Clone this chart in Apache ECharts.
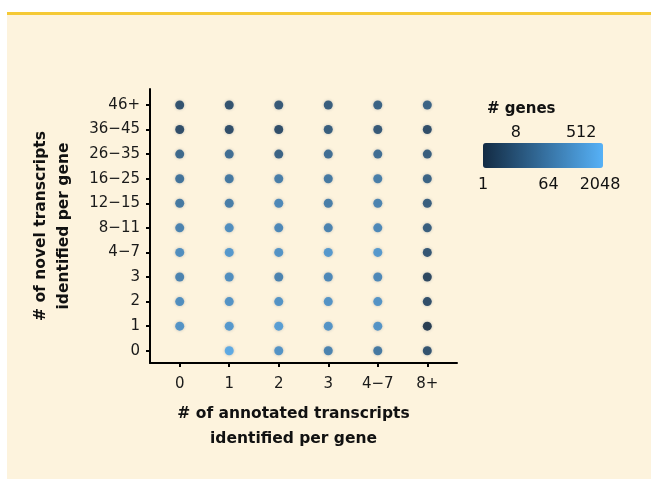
<!DOCTYPE html>
<html>
<head>
<meta charset="utf-8">
<script src="https://cdn.jsdelivr.net/npm/echarts@6/dist/echarts.min.js"></script>
<style>
  html, body { margin: 0; padding: 0; background: #ffffff; }
  #chart { width: 651px; height: 479px; }
</style>
</head>
<body>
<div id="chart"></div>
<script>
// Categories
const annotatedCats = ['0', '1', '2', '3', '4\u22127', '8+'];
const novelCats = ['0', '1', '2', '3', '4\u22127', '8\u221211', '12\u221215', '16\u221225', '26\u221235', '36\u221245', '46+'];

// Estimated number of genes per cell, rows = novel category (0 .. 46+), columns = annotated category (0 .. 8+)
const genes_novel_0     = [null, 1024, 256, 90, 45, 4];
const genes_novel_1     = [256, 360, 512, 256, 256, 1];
const genes_novel_2     = [180, 256, 256, 256, 256, 3];
const genes_novel_3     = [90, 180, 90, 128, 128, 2];
const genes_novel_4_7   = [180, 360, 256, 360, 360, 5];
const genes_novel_8_11  = [90, 180, 128, 90, 128, 8];
const genes_novel_12_15 = [45, 64, 128, 64, 90, 8];
const genes_novel_16_25 = [32, 45, 64, 45, 64, 11];
const genes_novel_26_35 = [16, 23, 11, 23, 23, 8];
const genes_novel_36_45 = [3, 3, 3, 8, 6, 3];
const genes_novel_46p   = [4, 4, 6, 8, 11, 11];

const geneRows = [genes_novel_0, genes_novel_1, genes_novel_2, genes_novel_3, genes_novel_4_7,
  genes_novel_8_11, genes_novel_12_15, genes_novel_16_25, genes_novel_26_35, genes_novel_36_45, genes_novel_46p];

// Colour legend tick labels
const legendTicksTop = [8, 512];
const legendTicksBottom = [1, 64, 2048];

const points = [];
geneRows.forEach((row, yi) => {
  row.forEach((v, xi) => {
    if (v != null) points.push([xi, yi, Math.log2(v), v]);
  });
});

const FONT = '"DejaVu Sans", "Liberation Sans", Arial, sans-serif';
const chart = echarts.init(document.getElementById('chart'), null, { renderer: 'canvas' });

// legend bar geometry (log2 scale 0..11)
const barLeft = 483, barTop = 143, barLen = 120, barThick = 25;
const lx = v => barLeft + Math.log2(v) / 11 * barLen;

const graphics = [
  { type: 'rect', shape: { x: 7, y: 12, width: 644, height: 467 }, style: { fill: '#fdf3dd' }, z: -10, silent: true },
  { type: 'rect', shape: { x: 7, y: 12, width: 644, height: 3 }, style: { fill: '#f5c935' }, z: -9, silent: true },
  { type: 'text', x: 487, y: 109, style: { text: '# genes', font: 'bold 15px ' + FONT, fill: '#111', verticalAlign: 'middle' } }
];
legendTicksTop.forEach(v => graphics.push({
  type: 'text', x: lx(v), y: 133, style: { text: String(v), font: '16px ' + FONT, fill: '#111', align: 'center', verticalAlign: 'middle' }
}));
legendTicksBottom.forEach(v => graphics.push({
  type: 'text', x: Math.min(lx(v), 600), y: 185, style: { text: String(v), font: '16px ' + FONT, fill: '#111', align: 'center', verticalAlign: 'middle' }
}));

chart.setOption({
  backgroundColor: '#ffffff',
  animation: false,
  textStyle: { fontFamily: FONT },
  grid: { left: 150, top: 89, width: 307, height: 274, containLabel: false },
  xAxis: {
    type: 'value', min: -0.6, max: 5.6,
    splitLine: { show: false },
    axisLine: { show: true, onZero: false, lineStyle: { color: '#000', width: 2 } },
    axisTick: { show: true, length: 4, lineStyle: { color: '#000', width: 2 }, customValues: annotatedCats.map((c, i) => i) },
    axisLabel: { customValues: annotatedCats.map((c, i) => i), formatter: v => annotatedCats[Math.round(v)] || '',
      color: '#1a1a1a', fontSize: 15, margin: 14, fontFamily: FONT },
    name: '# of annotated transcripts\nidentified per gene',
    nameLocation: 'middle', nameGap: 38,
    nameTextStyle: { fontSize: 15.5, fontWeight: 'bold', color: '#111', lineHeight: 25, fontFamily: FONT,
      verticalAlign: 'top', padding: [0, 20, 0, 0] }
  },
  yAxis: {
    type: 'value', min: -0.5, max: 10.65,
    splitLine: { show: false },
    axisLine: { show: true, onZero: false, lineStyle: { color: '#000', width: 2 } },
    axisTick: { show: true, length: 4, lineStyle: { color: '#000', width: 2 }, customValues: novelCats.map((c, i) => i) },
    axisLabel: { customValues: novelCats.map((c, i) => i), formatter: v => novelCats[Math.round(v)] || '',
      color: '#1a1a1a', fontSize: 15, margin: 10, fontFamily: FONT },
    name: '# of novel transcripts\nidentified per gene',
    nameLocation: 'middle', nameGap: 75, nameRotate: 90,
    nameTextStyle: { fontSize: 15.5, fontWeight: 'bold', color: '#111', lineHeight: 23, fontFamily: FONT }
  },
  visualMap: {
    type: 'continuous', min: 0, max: 11, dimension: 2,
    orient: 'horizontal', left: barLeft, top: barTop,
    itemWidth: barThick, itemHeight: barLen, padding: 0,
    calculable: false, text: null, showLabel: false,
    inRange: { color: ['#132B43', '#56B1F7'] },
    seriesIndex: 0
  },
  series: [{
    type: 'scatter',
    data: points,
    symbolSize: 9,
    itemStyle: { opacity: 0.88, shadowBlur: 3, shadowColor: 'rgba(40,70,100,0.35)' }
  }],
  graphic: graphics
});
</script>
</body>
</html>
